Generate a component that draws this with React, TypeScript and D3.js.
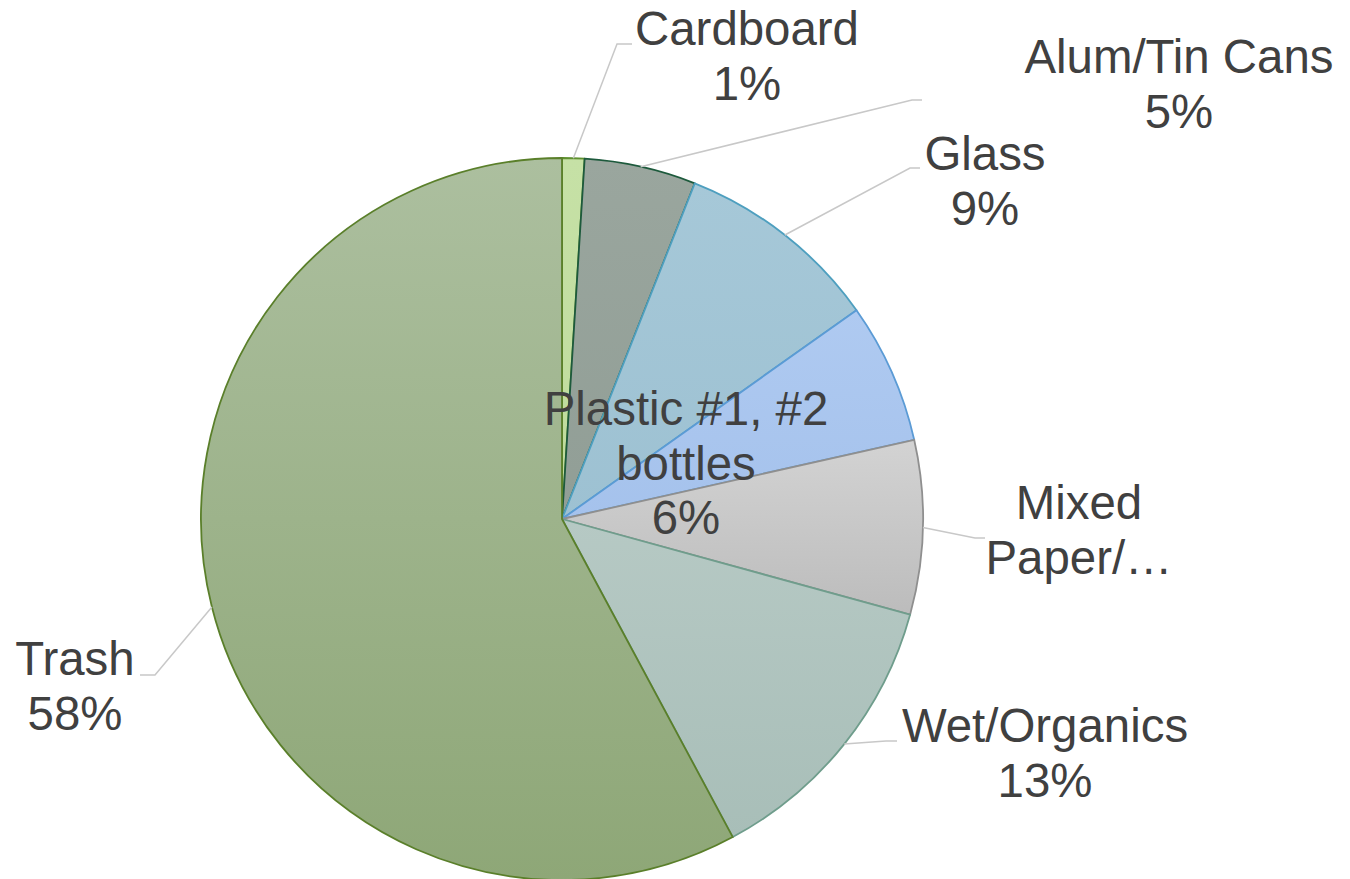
import React from "react";
import * as d3 from "d3";

// ---- data ----
const categories = ["Cardboard", "Alum/Tin Cans", "Glass", "Plastic #1, #2 bottles", "Mixed Paper/…", "Wet/Organics", "Trash"];
const values = [1.0, 5.0, 9.2, 6.3, 7.8, 12.9, 57.9];
const labelLines = [["Cardboard"], ["Alum/Tin Cans"], ["Glass"], ["Plastic #1, #2", "bottles"], ["Mixed", "Paper/…"], ["Wet/Organics"], ["Trash"]];
const showPercent = [true, true, true, true, false, true, true];

// ---- styles ----
const fillTop = ["#c6e1a6", "#9aa69e", "#a6c8d8", "#afcaf1", "#d3d3d3", "#b6c9c4", "#acbf9f"];
const fillBottom = ["#bfdb9c", "#919e96", "#9dc1d2", "#a5c2ec", "#bcbcbc", "#a8beb8", "#8ea777"];
const strokes = ["#5f9030", "#1d5a3c", "#4e9fbf", "#5b9bd5", "#8f8f8f", "#6f9d8c", "#5a7f2a"];

// label layout: centre x, first baseline y, leader elbow (null = no leader), leader end x
const labelPos = [
  { x: 747, y: 45, elbow: [617, 44], end: 632 },
  { x: 1179, y: 73, elbow: [912, 100], end: 922 },
  { x: 985, y: 170, elbow: [910, 168], end: 920 },
  { x: 686, y: 425, elbow: null, end: 0 },
  { x: 1079, y: 519, elbow: [975, 538], end: 985 },
  { x: 1045, y: 742, elbow: [886, 741], end: 897 },
  { x: 75, y: 675, elbow: [155, 675], end: 140 },
];

const W = 1350, H = 879;
const cx = 562, cy = 519, R = 361;
const lineH = 54.5;
const fontSize = 47.4;

export default function App() {
  const total = d3.sum(values);
  const pie = d3.pie<number>().sort(null).value((d) => d);
  const arcs = pie(values);
  const arcGen = d3.arc<d3.PieArcDatum<number>>().innerRadius(0).outerRadius(R);
  const fmt = d3.format(".0%");

  return (
    <svg width={W} height={H} style={{ position: "absolute", left: 0, top: 0, background: "#fff" }}>
      <defs>
        {categories.map((c, i) => (
          <linearGradient key={i} id={`g${i}`} x1="0" y1="0" x2="0" y2="1">
            <stop offset="0" stopColor={fillTop[i]} />
            <stop offset="1" stopColor={fillBottom[i]} />
          </linearGradient>
        ))}
      </defs>
      <g transform={`translate(${cx},${cy})`}>
        {arcs.map((a, i) => (
          <path key={i} d={arcGen(a) || ""} fill={`url(#g${i})`} stroke={strokes[i]} strokeWidth={1.8} strokeLinejoin="round" />
        ))}
      </g>
      {arcs.map((a, i) => {
        const lp = labelPos[i];
        if (!lp.elbow) return null;
        const mid = (a.startAngle + a.endAngle) / 2;
        const sx = cx + R * Math.sin(mid);
        const sy = cy - R * Math.cos(mid);
        const pts = `${sx},${sy} ${lp.elbow[0]},${lp.elbow[1]} ${lp.end},${lp.elbow[1]}`;
        return <polyline key={i} points={pts} fill="none" stroke="#c8c8c8" strokeWidth={1.5} />;
      })}
      {arcs.map((a, i) => {
        const lp = labelPos[i];
        const lines = [...labelLines[i]];
        if (showPercent[i]) lines.push(fmt(values[i] / total));
        return (
          <text key={i} x={lp.x} y={lp.y} textAnchor="middle" fontFamily="'Liberation Sans', Arial, sans-serif" fontSize={fontSize} fill="#404040">
            {lines.map((l, j) => (
              <tspan key={j} x={lp.x} y={lp.y + j * lineH}>{l}</tspan>
            ))}
          </text>
        );
      })}
    </svg>
  );
}
